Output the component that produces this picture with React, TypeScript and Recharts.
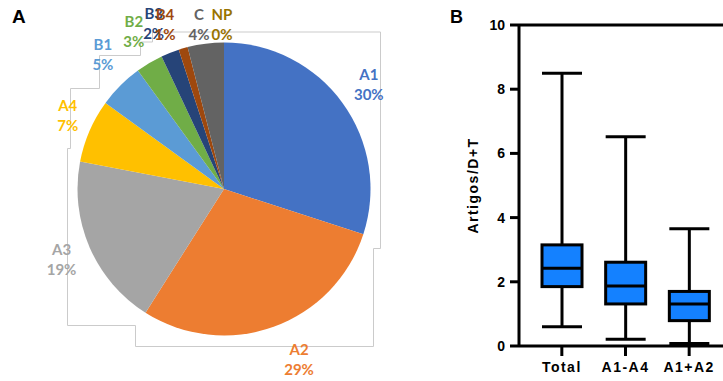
import React from 'react';
import { PieChart, Pie, Cell, ComposedChart, Bar, XAxis, YAxis, ReferenceLine } from 'recharts';

// ---- Panel A data (percent of total) ----
const pieNames = ['A1', 'A2', 'A3', 'A4', 'B1', 'B2', 'B3', 'B4', 'C', 'NP'];
const pieValues = [30, 29, 19, 7, 5, 3, 2, 1, 4, 0];
const pieColors = ['#4472C4', '#ED7D31', '#A5A5A5', '#FFC000', '#5B9BD5', '#70AD47', '#264478', '#9E480E', '#636363', '#997300'];

// ---- Panel B data (box plot: min, q1, median, q3, max) ----
const boxCategories = ['Total', 'A1-A4', 'A1+A2'];
const boxMin = [0.6, 0.21, 0.08];
const boxQ1 = [1.85, 1.31, 0.79];
const boxMedian = [2.42, 1.87, 1.31];
const boxQ3 = [3.15, 2.61, 1.7];
const boxMax = [8.5, 6.52, 3.65];
const yTicks = [0, 2, 4, 6, 8, 10];

// label layout tweaks (angle shift in degrees, radius in px) for the pie labels
const labelLayout: Record<string, [number, number]> = {
  A1: [0, 179],
  A2: [4, 186],
  A3: [0, 177],
  A4: [-2, 173],
  B1: [-3, 181],
  B2: [-0.9, 182],
  B3: [1.4, 180],
  B4: [3.5, 175],
  C: [1.4, 167],
  NP: [0.7, 165],
};

// light grey outline left around the pie in the original figure (decoration)
const framePath =
  'M380.5,32 L152.5,32 L152.5,42 L140.5,42 L140.5,55.5 L99.5,55.5 L99.5,88.5 L70.5,88.5 L70.5,148.5 L67.5,148.5 L67.5,325.5 L135.5,325.5 L135.5,346.5 L373.5,346.5 L373.5,248.5 L380.5,248.5 Z';

const pieData = pieNames.map((name, i) => ({ name, value: pieValues[i] }));
const boxData = boxCategories.map((cat, i) => ({
  cat,
  range: [boxMin[i], boxMax[i]],
  min: boxMin[i],
  q1: boxQ1[i],
  median: boxMedian[i],
  q3: boxQ3[i],
  max: boxMax[i],
}));

const total = pieValues.reduce((a, b) => a + b, 0);

const renderPieLabel = (props: any) => {
  const { cx, cy, index } = props;
  const before = pieValues.slice(0, index).reduce((a, b) => a + b, 0);
  const frac = pieValues[index] / total;
  const mid = 90 - ((before / total) + frac / 2) * 360;
  const [da, r] = labelLayout[pieNames[index]];
  const ang = ((mid + da) * Math.PI) / 180;
  const x = cx + r * Math.cos(ang);
  const y = cy - r * Math.sin(ang);
  const color = pieColors[index];
  return (
    <g key={`lbl-${index}`}>
      <text x={x} y={y - 10} textAnchor="middle" dominantBaseline="central" fill={color}
        style={{ fontFamily: 'Lato, sans-serif', fontWeight: 700, fontSize: 15 }}>
        {pieNames[index]}
      </text>
      <text x={x} y={y + 10} textAnchor="middle" dominantBaseline="central" fill={color}
        style={{ fontFamily: 'Lato, sans-serif', fontWeight: 700, fontSize: 15 }}>
        {`${pieValues[index]}%`}
      </text>
    </g>
  );
};

const BoxShape = (props: any) => {
  const { x, y, width, height, payload } = props;
  const { min, max, q1, q3, median } = payload;
  const toY = (v: number) => y + (height * (max - v)) / (max - min);
  const cxm = x + width / 2;
  const sw = 3;
  return (
    <g>
      <line x1={cxm} x2={cxm} y1={toY(max)} y2={toY(q3)} stroke="#000" strokeWidth={sw} />
      <line x1={cxm} x2={cxm} y1={toY(q1)} y2={toY(min)} stroke="#000" strokeWidth={sw} />
      <line x1={x} x2={x + width} y1={toY(max)} y2={toY(max)} stroke="#000" strokeWidth={sw} />
      <line x1={x} x2={x + width} y1={toY(min)} y2={toY(min)} stroke="#000" strokeWidth={sw} />
      <rect x={x} y={toY(q3)} width={width} height={toY(q1) - toY(q3)} fill="#1481FF" stroke="#000" strokeWidth={sw} />
      <line x1={x} x2={x + width} y1={toY(median)} y2={toY(median)} stroke="#000" strokeWidth={sw} />
    </g>
  );
};

const axisFont = { fontFamily: '"Liberation Sans", Arial, sans-serif', fontWeight: 700, fontSize: 14, fill: '#000' };

export default function App() {
  return (
    <div style={{ position: 'absolute', left: 0, top: 0, width: 723, height: 381, background: '#fff', overflow: 'hidden' }}>
      <style>{`.recharts-pie-sectors { filter: drop-shadow(2px 3px 3px rgba(0,0,0,0.28)); }`}</style>
      <svg width={440} height={381} style={{ position: 'absolute', left: 0, top: 0 }}>
        <path d={framePath} fill="none" stroke="#CBCBCB" strokeWidth={1} />
      </svg>
      <div style={{ position: 'absolute', left: 12, top: 6, fontFamily: '"Liberation Sans", Arial, sans-serif', fontWeight: 700, fontSize: 19 }}>A</div>
      <div style={{ position: 'absolute', left: 450, top: 7, fontFamily: '"Liberation Sans", Arial, sans-serif', fontWeight: 700, fontSize: 18 }}>B</div>
      <div style={{ position: 'absolute', left: 0, top: 0 }}>
        <PieChart width={440} height={381} margin={{ top: 0, right: 0, bottom: 0, left: 0 }}>
          <Pie
            data={pieData}
            dataKey="value"
            nameKey="name"
            cx={224}
            cy={189}
            outerRadius={146.5}
            startAngle={90}
            endAngle={-270}
            stroke="none"
            label={renderPieLabel}
            labelLine={false}
            isAnimationActive={false}
          >
            {pieData.map((d, i) => (
              <Cell key={d.name} fill={pieColors[i]} />
            ))}
          </Pie>
        </PieChart>
      </div>
      <div style={{ position: 'absolute', left: 440, top: 0 }}>
        <ComposedChart width={283} height={381} data={boxData} margin={{ top: 25, right: 0, bottom: 0, left: 0 }}>
          <YAxis
            domain={[0, 10]}
            ticks={yTicks}
            width={79}
            axisLine={{ stroke: '#000', strokeWidth: 3 }}
            tickLine={{ stroke: '#000', strokeWidth: 3 }}
            tickSize={9}
            tickMargin={5}
            tick={axisFont}
            interval={0}
            label={{
              value: 'Artigos/D+T',
              angle: -90,
              position: 'insideLeft',
              offset: 33,
              style: { ...axisFont, textAnchor: 'middle', letterSpacing: 1.5 },
            }}
          />
          <XAxis
            dataKey="cat"
            height={35}
            padding={{ left: 11, right: 2 }}
            axisLine={{ stroke: '#000', strokeWidth: 3 }}
            tickLine={{ stroke: '#000', strokeWidth: 3 }}
            tickSize={10}
            tickMargin={6}
            tick={{ ...axisFont, letterSpacing: 1.5 }}
            interval={0}
          />
          <ReferenceLine y={10} stroke="#000" strokeWidth={3} />
          <Bar dataKey="range" barSize={40} shape={<BoxShape />} isAnimationActive={false} />
        </ComposedChart>
      </div>
    </div>
  );
}
